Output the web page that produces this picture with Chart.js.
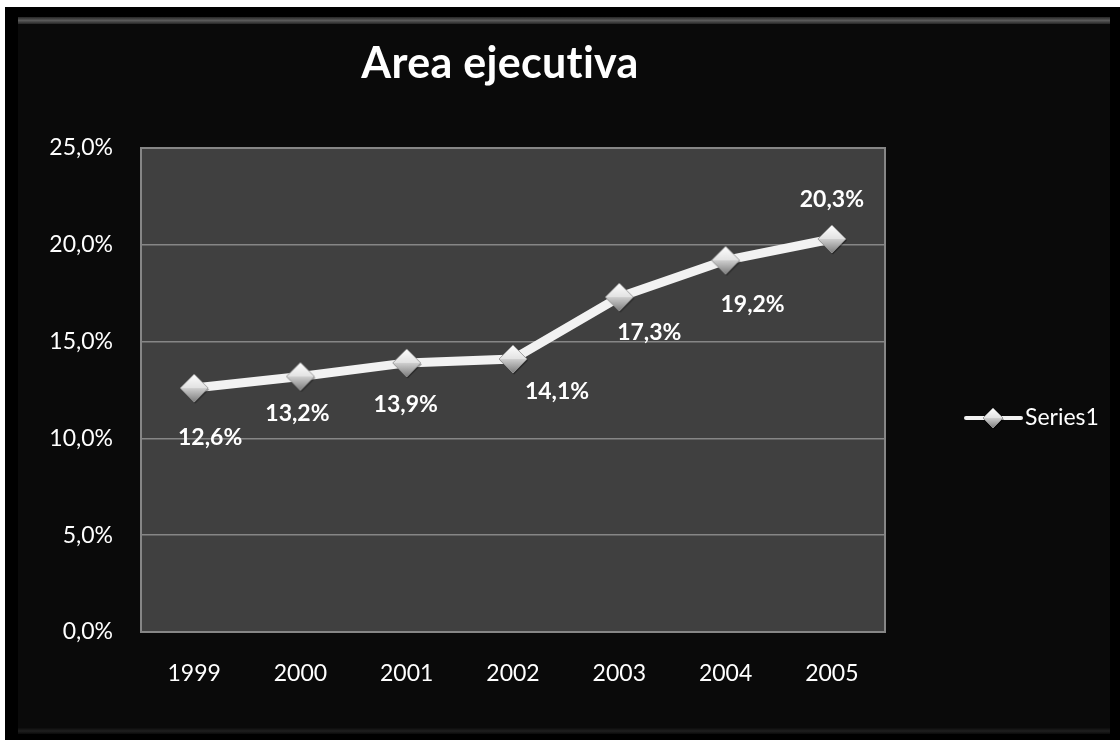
<!DOCTYPE html>
<html>
<head>
<meta charset="utf-8">
<title>Area ejecutiva</title>
<script src="https://cdn.jsdelivr.net/npm/chart.js@4"></script>
<style>
  html, body { margin: 0; background: #fff; overflow: hidden; height: 740px; }
  #frame { position: absolute; left: 5px; top: 7px; width: 1115px; height: 740px; background: #000; }
  #inner { position: absolute; left: 18px; top: 17px; width: 1092px; height: 713px; background: #0a0a0a; }
  #hl { position: absolute; left: 18px; top: 17px; width: 1092px; height: 7px;
        background: linear-gradient(#262626, #5a5a5a, #262626); }
  #bl { position: absolute; left: 18px; top: 728px; width: 1092px; height: 6px;
        background: linear-gradient(#0d0d0d, #1f1f1f, #0a0a0a); }
  #chart { position: absolute; left: 0; top: 0; }
</style>
</head>
<body>
<div id="frame"></div>
<div id="inner"></div>
<div id="hl"></div>
<div id="bl"></div>
<canvas id="chart" width="1120" height="740"></canvas>
<script>
// values
var years = ['1999', '2000', '2001', '2002', '2003', '2004', '2005'];
var shares = [12.6, 13.2, 13.9, 14.1, 17.3, 19.2, 20.3];
var seriesName = 'Series1';
var chartTitle = 'Area ejecutiva';

var FONT = 'Lato, "Open Sans", sans-serif';

function pct(v) {
  return v.toFixed(1).replace('.', ',') + '%';
}

// shaded diamond marker like the excel one
function diamond(r) {
  var c = document.createElement('canvas');
  var s = 2 * r + 4;
  c.width = s; c.height = s;
  var g = c.getContext('2d');
  var m = s / 2;

  g.fillStyle = 'rgba(0,0,0,0.35)';
  g.beginPath();
  g.moveTo(m - r + 1, m + 1.5); g.lineTo(m + 1, m - r + 1.5);
  g.lineTo(m + r + 1, m + 1.5); g.lineTo(m + 1, m + r + 1.5);
  g.closePath(); g.fill();

  var top = g.createLinearGradient(0, m - r, 0, m);
  top.addColorStop(0, '#ffffff');
  top.addColorStop(1, '#e2e2e2');
  g.fillStyle = top;
  g.beginPath();
  g.moveTo(m - r, m); g.lineTo(m, m - r); g.lineTo(m + r, m);
  g.closePath(); g.fill();

  var bot = g.createLinearGradient(0, m, 0, m + r);
  bot.addColorStop(0, '#cfcfcf');
  bot.addColorStop(1, '#7c7c7c');
  g.fillStyle = bot;
  g.beginPath();
  g.moveTo(m - r, m); g.lineTo(m + r, m); g.lineTo(m, m + r);
  g.closePath(); g.fill();

  g.strokeStyle = 'rgba(150,150,150,0.9)';
  g.lineWidth = 1;
  g.beginPath();
  g.moveTo(m - r, m); g.lineTo(m, m - r); g.lineTo(m + r, m); g.lineTo(m, m + r);
  g.closePath(); g.stroke();
  return c;
}

var marker = diamond(14);
var legendMarker = diamond(10);

var plotBox = {
  id: 'plotBox',
  beforeDraw: function(chart) {
    var a = chart.chartArea, ctx = chart.ctx;
    ctx.save();
    ctx.fillStyle = '#404040';
    ctx.fillRect(a.left, a.top, a.right - a.left, a.bottom - a.top);
    ctx.restore();
  },
  afterDraw: function(chart) {
    var a = chart.chartArea, ctx = chart.ctx;
    ctx.save();
    ctx.strokeStyle = '#868686';
    ctx.lineWidth = 2;
    ctx.strokeRect(a.left, a.top, a.right - a.left, a.bottom - a.top);
    ctx.restore();
  }
};

var titlePlugin = {
  id: 'bigTitle',
  afterDraw: function(chart) {
    var ctx = chart.ctx;
    ctx.save();
    ctx.fillStyle = '#ffffff';
    ctx.font = 'bold 43px ' + FONT;
    ctx.letterSpacing = '0.3px'; // stops the "ti" ligature
    ctx.textAlign = 'center';
    ctx.textBaseline = 'alphabetic';
    ctx.fillText(chartTitle, 500, 78);
    ctx.restore();
  }
};

// excel put the labels around the points, offsets by eye
var labelOffsets = [[16, 50], [-3, 37], [-1, 42], [44, 33], [30, 36], [27, 44], [0, -39]];

var pointLabels = {
  id: 'pointLabels',
  afterDatasetsDraw: function(chart) {
    var ctx = chart.ctx;
    var meta = chart.getDatasetMeta(0);
    ctx.save();
    ctx.fillStyle = '#ffffff';
    ctx.font = 'bold 23px ' + FONT;
    ctx.textAlign = 'center';
    ctx.textBaseline = 'middle';
    meta.data.forEach(function(pt, i) {
      var off = labelOffsets[i];
      ctx.fillText(pct(shares[i]), pt.x + off[0], pt.y + off[1]);
    });
    ctx.restore();
  }
};

var sideLegend = {
  id: 'sideLegend',
  afterDraw: function(chart) {
    var ctx = chart.ctx;
    var x = chart.chartArea.right + 81;
    var y = 418;
    ctx.save();
    ctx.strokeStyle = '#f2f2f2';
    ctx.lineWidth = 4;
    ctx.lineCap = 'round';
    ctx.beginPath();
    ctx.moveTo(x, y);
    ctx.lineTo(x + 55, y);
    ctx.stroke();
    ctx.drawImage(legendMarker, x + 27 - legendMarker.width / 2, y - legendMarker.height / 2);
    ctx.fillStyle = '#ffffff';
    ctx.font = '23px ' + FONT;
    ctx.textAlign = 'left';
    ctx.textBaseline = 'middle';
    ctx.fillText(seriesName, x + 59, y);
    ctx.restore();
  }
};

var ctx = document.getElementById('chart');

var chart = new Chart(ctx, {
  type: 'line',
  data: {
    labels: years,
    datasets: [{
      label: seriesName,
      data: shares,
      borderColor: '#f2f2f2',
      borderWidth: 9,
      tension: 0,
      pointStyle: marker,
      pointRadius: 14,
      pointHoverRadius: 14
    }]
  },
  options: {
    responsive: false,
    animation: false,
    devicePixelRatio: 1,
    layout: {
      padding: { top: 148, right: 235, bottom: 0, left: 0 }
    },
    plugins: {
      legend: { display: false },
      title: { display: false },
      tooltip: { enabled: false }
    },
    scales: {
      x: {
        offset: true,
        grid: { display: false, drawTicks: false },
        border: { display: false },
        ticks: {
          color: '#ffffff',
          padding: 28,
          font: { family: FONT, size: 23 }
        },
        afterFit: function(s) { s.height = 108; }
      },
      y: {
        min: 0,
        max: 25,
        grid: { color: '#868686', lineWidth: 1.5, drawTicks: false },
        border: { display: false },
        ticks: {
          stepSize: 5,
          color: '#ffffff',
          padding: 28,
          font: { family: FONT, size: 23 },
          callback: function(v) { return pct(v); }
        },
        afterFit: function(s) { s.width = 141; }
      }
    }
  },
  plugins: [plotBox, pointLabels, titlePlugin, sideLegend]
});
</script>
</body>
</html>
